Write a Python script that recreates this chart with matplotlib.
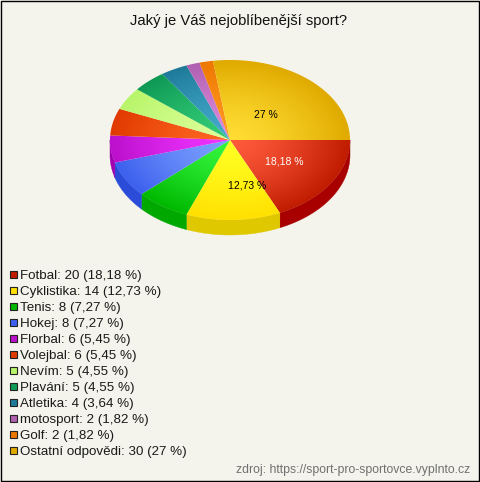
import numpy as np
import matplotlib
matplotlib.use('Agg')
import matplotlib.pyplot as plt
from matplotlib.colors import to_rgb
from matplotlib.patches import Polygon, Rectangle

plt.rcParams['font.family'] = ['Liberation Sans', 'DejaVu Sans']

# Data
categories = ['Fotbal', 'Cyklistika', 'Tenis', 'Hokej', 'Florbal', 'Volejbal', 'Nevím',
              'Plavání', 'Atletika', 'motosport', 'Golf', 'Ostatní odpovědi']
counts = [20, 14, 8, 8, 6, 6, 5, 5, 4, 2, 2, 30]
percents = ['18,18', '12,73', '7,27', '7,27', '5,45', '5,45', '4,55', '4,55', '3,64', '1,82', '1,82', '27']

# Gradient colours of the slices, centre and rim, then the side wall
inner_colors = ['#ff5a3c', '#ffff22', '#33f53c', '#7ba0ff', '#ee33ff', '#ff6622',
                '#dcff99', '#33cc77', '#44aacc', '#dd88dd', '#ff9922', '#ffdd33']
outer_colors = ['#c01c00', '#ffe000', '#00b800', '#3d60ee', '#bb10cc', '#e03a00',
                '#b8f56a', '#0f9955', '#1f7a99', '#b060b0', '#ee7700', '#e0aa00']
side_colors = ['#a80000', '#e0c800', '#00a800', '#2a4cd8', '#a000b0', '#c83000',
               '#a0d860', '#0c8048', '#186880', '#904890', '#c86000', '#c09000']

BG = '#f4f4ec'
CX, CY, RX, RY, DEPTH = 230, 140, 120, 80, 15

fig = plt.figure(figsize=(4.8, 4.82), dpi=100, facecolor=BG)
ax = fig.add_axes([0, 0, 1, 1])
ax.set_xlim(0, 480)
ax.set_ylim(482, 0)
ax.axis('off')

# Outer frame
ax.add_patch(Rectangle((0.5, 0.5), 478, 480, fill=False, edgecolor='black', linewidth=1))

ax.text(238, 21, 'Jaký je Váš nejoblíbenější sport?', fontsize=10.65, ha='center', va='center', color='#111111')

# Slice angles, clockwise on screen from the east
fractions = np.array(counts) / sum(counts)
edges = np.concatenate([[0], np.cumsum(fractions)]) * 2 * np.pi

# Radial gradient grid for the top face
xs = np.linspace(CX - RX, CX + RX, 241)
ys = np.linspace(CY - RY, CY + RY, 161)
gx, gy = np.meshgrid(xs, ys)
dist = np.clip(np.hypot((gx - CX) / RX, (gy - CY) / RY), 0, 1)[..., None] ** 1.4

# Side wall, front half only
for i in range(len(counts)):
    a0, a1 = edges[i], min(edges[i + 1], np.pi)
    if a0 >= np.pi:
        continue
    t = np.linspace(a0, a1, 60)
    x = CX + RX * np.cos(t)
    y = CY + RY * np.sin(t)
    pts = np.r_[np.c_[x, y], np.c_[x, y + DEPTH][::-1]]
    ax.add_patch(Polygon(pts, closed=True, facecolor=side_colors[i], edgecolor=side_colors[i], linewidth=0.3))

# Top face
for i in range(len(counts)):
    t = np.linspace(edges[i], edges[i + 1], 100)
    pts = np.r_[[[CX, CY]], np.c_[CX + RX * np.cos(t), CY + RY * np.sin(t)]]
    wedge = Polygon(pts, closed=True, facecolor='none', edgecolor='none', transform=ax.transData)
    ax.add_patch(wedge)
    c0 = np.array(to_rgb(inner_colors[i]))
    c1 = np.array(to_rgb(outer_colors[i]))
    img = c0 * (1 - dist) + c1 * dist
    im = ax.imshow(img, extent=(CX - RX, CX + RX, CY + RY, CY - RY), aspect='auto', interpolation='bilinear', zorder=2)
    im.set_clip_path(wedge)

ax.set_xlim(0, 480)
ax.set_ylim(482, 0)

# Value labels on the largest slices
ax.text(265.5, 115, f'{percents[11]} %', fontsize=7.5, ha='center', va='center', color='black', zorder=3)
ax.text(284, 162, f'{percents[0]} %', fontsize=7.5, ha='center', va='center', color='white', zorder=3)
ax.text(247, 186, f'{percents[1]} %', fontsize=7.5, ha='center', va='center', color='black', zorder=3)

# Legend
for i, name in enumerate(categories):
    y = 274 + 16 * i
    ax.add_patch(Rectangle((9.5, y - 3.5), 7, 7, facecolor=outer_colors[i], edgecolor='#222222', linewidth=0.8, zorder=3))
    ax.text(20, y + 2, f'{name}: {counts[i]} ({percents[i]} %)', fontsize=9.63, ha='left', va='center', color='#1a1a1a')

ax.text(470, 470, 'zdroj: https://sport-pro-sportovce.vyplnto.cz', fontsize=8.83, ha='right', va='center', color='#707070')

fig.savefig('out.png', dpi=100, facecolor=BG)
